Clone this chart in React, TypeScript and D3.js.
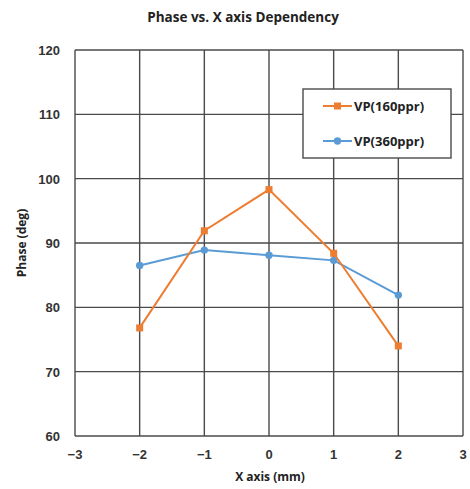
import { useEffect, useRef } from 'react';
import * as d3 from 'd3';

const xValues = [-2, -1, 0, 1, 2];
const vp160 = [76.8, 91.9, 98.3, 88.4, 74.0];
const vp360 = [86.5, 88.9, 88.1, 87.3, 81.9];
const xTicks = [-3, -2, -1, 0, 1, 2, 3];
const yTicks = [60, 70, 80, 90, 100, 110, 120];
const seriesNames = ['VP(160ppr)', 'VP(360ppr)'];

const ORANGE = '#ED7D31';
const BLUE = '#5B9BD5';
const GRID = '#4a4a4a';

export default function App() {
  const svgRef = useRef<SVGSVGElement>(null);

  useEffect(() => {
    if (!svgRef.current) {
      return;
    }
    const width = 470;
    const height = 489;
    const svg = d3.select(svgRef.current);
    svg.selectAll('*').remove();
    svg.attr('width', width).attr('height', height);

    svg.append('rect').attr('width', width).attr('height', height).attr('fill', '#fff');

    const x = d3.scaleLinear().domain([-3, 3]).range([75, 463]);
    const y = d3.scaleLinear().domain([60, 120]).range([436, 50]);

    const labelFont = '"Liberation Sans", Arial, sans-serif';
    const titleFont = '"Open Sans", "Liberation Sans", sans-serif';

    // title
    svg
      .append('text')
      .attr('x', 243)
      .attr('y', 22)
      .attr('text-anchor', 'middle')
      .style('font-family', titleFont)
      .style('font-weight', 'bold')
      .style('font-size', '13.5px')
      .attr('fill', '#222')
      .text('Phase vs. X axis Dependency');

    // grid
    const grid = svg.append('g');
    grid
      .selectAll('line.v')
      .data(xTicks)
      .enter()
      .append('line')
      .attr('x1', (d) => x(d))
      .attr('x2', (d) => x(d))
      .attr('y1', y(120))
      .attr('y2', y(60))
      .attr('stroke', GRID)
      .attr('stroke-width', 1.4);
    grid
      .selectAll('line.h')
      .data(yTicks)
      .enter()
      .append('line')
      .attr('x1', x(-3))
      .attr('x2', x(3))
      .attr('y1', (d) => y(d))
      .attr('y2', (d) => y(d))
      .attr('stroke', GRID)
      .attr('stroke-width', 1.4);

    // tick labels
    svg
      .append('g')
      .selectAll('text')
      .data(yTicks)
      .enter()
      .append('text')
      .attr('x', 60)
      .attr('y', (d) => y(d) + 5)
      .attr('text-anchor', 'end')
      .style('font-family', labelFont)
      .style('font-weight', 'bold')
      .style('font-size', '13px')
      .attr('fill', '#333')
      .text((d) => d);

    svg
      .append('g')
      .selectAll('text')
      .data(xTicks)
      .enter()
      .append('text')
      .attr('x', (d) => x(d))
      .attr('y', 459)
      .attr('text-anchor', 'middle')
      .style('font-family', labelFont)
      .style('font-weight', 'bold')
      .style('font-size', '13px')
      .attr('fill', '#333')
      .text((d) => (d < 0 ? `\u2212${Math.abs(d)}` : `${d}`));

    // axis titles
    svg
      .append('text')
      .attr('x', 270)
      .attr('y', 481)
      .attr('text-anchor', 'middle')
      .style('font-family', titleFont)
      .style('font-weight', 'bold')
      .style('font-size', '12px')
      .attr('fill', '#222')
      .text('X axis (mm)');

    svg
      .append('text')
      .attr('transform', `translate(26,${y(90)})rotate(-90)`)
      .attr('text-anchor', 'middle')
      .style('font-family', titleFont)
      .style('font-weight', 'bold')
      .style('font-size', '12px')
      .attr('fill', '#222')
      .text('Phase (deg)');

    const line = d3
      .line<number>()
      .x((_d, i) => x(xValues[i]))
      .y((d) => y(d));

    const drawSeries = (values: number[], color: string, square: boolean) => {
      const g = svg.append('g');
      g.append('path')
        .attr('d', line(values))
        .attr('fill', 'none')
        .attr('stroke', color)
        .attr('stroke-width', 2);
      if (square) {
        g.selectAll('rect')
          .data(values)
          .enter()
          .append('rect')
          .attr('x', (_d, i) => x(xValues[i]) - 3.5)
          .attr('y', (d) => y(d) - 3.5)
          .attr('width', 7)
          .attr('height', 7)
          .attr('fill', color);
      } else {
        g.selectAll('circle')
          .data(values)
          .enter()
          .append('circle')
          .attr('cx', (_d, i) => x(xValues[i]))
          .attr('cy', (d) => y(d))
          .attr('r', 3.7)
          .attr('fill', color);
      }
    };

    drawSeries(vp360, BLUE, false);
    drawSeries(vp160, ORANGE, true);

    // legend
    const legend = svg.append('g');
    legend
      .append('rect')
      .attr('x', 303)
      .attr('y', 89)
      .attr('width', 148)
      .attr('height', 69)
      .attr('fill', '#fff')
      .attr('stroke', GRID)
      .attr('stroke-width', 1.4);
    const colors = [ORANGE, BLUE];
    seriesNames.forEach((name, i) => {
      const ly = 106 + i * 35;
      legend
        .append('line')
        .attr('x1', 323)
        .attr('x2', 352)
        .attr('y1', ly)
        .attr('y2', ly)
        .attr('stroke', colors[i])
        .attr('stroke-width', 2);
      if (i === 0) {
        legend
          .append('rect')
          .attr('x', 334)
          .attr('y', ly - 3.5)
          .attr('width', 7)
          .attr('height', 7)
          .attr('fill', colors[i]);
      } else {
        legend.append('circle').attr('cx', 337.5).attr('cy', ly).attr('r', 3.7).attr('fill', colors[i]);
      }
      legend
        .append('text')
        .attr('x', 354)
        .attr('y', ly + 5)
        .style('font-family', titleFont)
        .style('font-weight', 'bold')
        .style('font-size', '13px')
        .attr('fill', '#222')
        .text(name);
    });
  }, []);

  return <svg ref={svgRef} style={{ position: 'absolute', left: 0, top: 0 }} />;
}
